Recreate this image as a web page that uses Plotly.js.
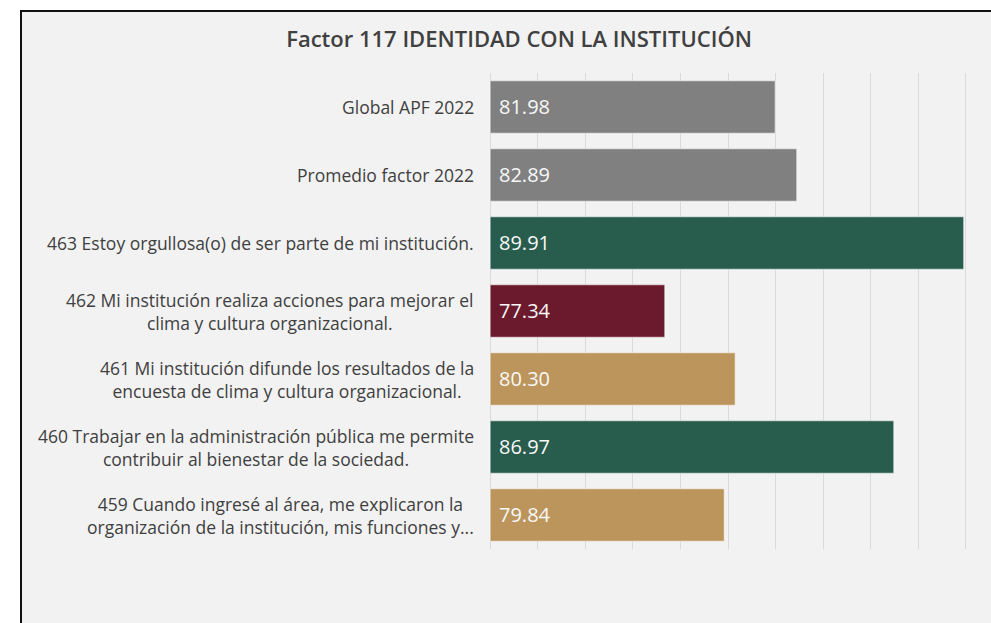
<!DOCTYPE html>
<html>
<head>
<meta charset="utf-8">
<script src="https://cdn.plot.ly/plotly-3.0.1.min.js"></script>
<style>
  html, body { margin: 0; padding: 0; background: #ffffff; width: 991px; height: 623px; overflow: hidden; }
  #chart { position: absolute; left: 20px; top: 10px; width: 969px; height: 611px;
           border-left: 2px solid #111; border-top: 2px solid #111; }
</style>
</head>
<body>
<div id="chart"></div>
<script>
const categories = [
  "Global APF 2022",
  "Promedio factor 2022",
  "463 Estoy orgullosa(o) de ser parte de mi institución.",
  "462 Mi institución realiza acciones para mejorar el<br>clima y cultura organizacional.",
  "461 Mi institución difunde los resultados de la<br>encuesta de clima y cultura organizacional.",
  "460 Trabajar en la administración pública me permite<br>contribuir al bienestar de la sociedad.",
  "459 Cuando ingresé al área, me explicaron la<br>organización de la institución, mis funciones y..."
];
const values = [81.98, 82.89, 89.91, 77.34, 80.30, 86.97, 79.84];
const barColors = ["#808080", "#808080", "#285c4d", "#6b1a2e", "#bc955c", "#285c4d", "#bc955c"];
const titleText = "Factor 117 IDENTIDAD CON LA INSTITUCIÓN";
const axisMin = 70, axisMax = 90;

const ids = categories.map((c, i) => "c" + i);

const trace = {
  type: "bar",
  orientation: "h",
  y: ids,
  base: axisMin,
  x: values.map(v => v - axisMin),
  marker: { color: barColors, line: { color: "rgba(255,255,255,0.5)", width: 1 } },
  hoverinfo: "skip"
};

const labelAnns = categories.map((c, i) => ({
  xref: "paper", yref: "y", x: 0, y: ids[i],
  xanchor: "right", yanchor: "middle", align: "center",
  xshift: -13,
  text: c, showarrow: false,
  font: { family: "Open Sans", size: 17.5, color: "#404040" }
}));
const valueAnns = values.map((v, i) => ({
  xref: "x", yref: "y", x: axisMin, y: ids[i],
  xanchor: "left", yanchor: "middle", xshift: 7, yshift: 1,
  text: v.toFixed(2), showarrow: false,
  font: { family: "Open Sans", size: 20, color: "#f8f8f8" }
}));

const layout = {
  width: 969, height: 611,
  paper_bgcolor: "#f2f2f2", plot_bgcolor: "#f2f2f2",
  margin: { l: 467, r: 24, t: 61, b: 74 },
  title: { text: titleText, x: 0.513, xanchor: "center", y: 0.955, yanchor: "middle",
           font: { family: "Open Sans", size: 22, color: "#404040", weight: 600 } },
  xaxis: { range: [axisMin - 0.05, axisMax + 0.05], dtick: 2, tick0: axisMin, showgrid: true, gridcolor: "#dadada", gridwidth: 1,
           zeroline: false, showticklabels: false, showline: false, fixedrange: true },
  yaxis: { autorange: "reversed", showticklabels: false, showgrid: false, zeroline: false, showline: false },
  bargap: 0.23,
  showlegend: false,
  annotations: labelAnns.concat(valueAnns)
};

Plotly.newPlot("chart", [trace], layout, { displayModeBar: false, staticPlot: true });
</script>
</body>
</html>
